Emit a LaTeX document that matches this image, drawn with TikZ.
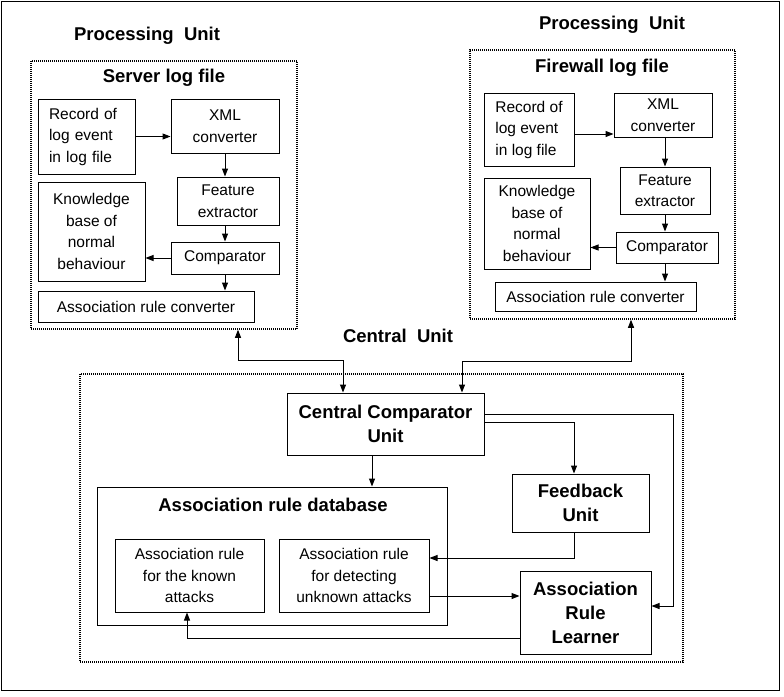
\documentclass[tikz,border=0pt]{standalone}
\usepackage{fontspec}
\setmainfont{Liberation Sans}
\usetikzlibrary{arrows.meta}

\tikzset{
  box/.style={draw, line width=1pt, inner sep=2pt, align=center,
    font=\fontsize{15.5pt}{21.5pt}\selectfont},
  bigbox/.style={draw, line width=1pt, inner sep=2pt, align=center,
    font=\fontsize{18.5pt}{24pt}\selectfont\bfseries},
  title/.style={font=\fontsize{18.5pt}{24pt}\selectfont\bfseries},
  unitframe/.style={line width=1.5pt, dash pattern=on 1pt off 1pt},
  arr/.style={line width=1pt, -{Triangle[length=8pt,width=6pt]}},
  arrs/.style={line width=1pt, {Triangle[length=8pt,width=6pt]}-{Triangle[length=8pt,width=6pt]}}
}

\begin{document}
\begin{tikzpicture}[x=1pt,y=-1pt]

\useasboundingbox (0,0) rectangle (784,696);
\draw[line width=1pt] (1,1) rectangle (779,690);

% server side
\node[title] (pu1title) at (147,36) {Processing~~Unit};
\node[draw, unitframe, minimum width=266pt, minimum height=268pt] (pu1) at (164,195) {};
\node[title] (srvtitle) at (164,78) {Server log file};

\node[box, align=left, text width=75pt, inner xsep=11pt, minimum height=75pt] (rec1) at (86.5,136.5) {Record of\\log event\\in log file};
\node[box, minimum width=108pt, minimum height=54pt] (xml1) at (225,126) {XML\\converter};
\node[box, minimum width=102pt, minimum height=48pt] (feat1) at (228,201) {Feature\\extractor};
\node[box, minimum width=107pt, minimum height=99pt] (know1) at (91.5,231.5) {Knowledge\\base of\\normal\\behaviour};
\node[box, minimum width=108pt, minimum height=32pt] (comp1) at (225,258) {Comparator};
\node[box, minimum width=216pt, minimum height=31pt] (arc1) at (146,306.5) {Association rule converter};

\draw[arr] (rec1.east) -- (rec1.east -| xml1.west);
\draw[arr] (xml1.south) -- (xml1.south |- feat1.north);
\draw[arr] (comp1.north |- feat1.south) -- (comp1.north);
\draw[arr] (comp1.west) -- (comp1.west -| know1.east);
\draw[arr] (comp1.south) -- (comp1.south |- arc1.north);

% firewall side
\node[title] (pu2title) at (612,25) {Processing~~Unit};
\node[draw, unitframe, minimum width=265pt, minimum height=269pt] (pu2) at (602.5,184.5) {};
\node[title] (fwtitle) at (602,68) {Firewall log file};

\node[box, align=left, minimum width=90pt, minimum height=73pt] (rec2) at (529,129.5) {Record of\\log event\\in log file};
\node[box, minimum width=98pt, minimum height=44pt] (xml2) at (663,115) {XML\\converter};
\node[box, minimum width=90pt, minimum height=47pt] (feat2) at (665,190.5) {Feature\\extractor};
\node[box, minimum width=106pt, minimum height=91pt] (know2) at (537,223.5) {Knowledge\\base of\\normal\\behaviour};
\node[box, minimum width=102pt, minimum height=31pt] (comp2) at (667,247.5) {Comparator};
\node[box, minimum width=201pt, minimum height=29pt] (arc2) at (595.5,296.5) {Association rule converter};

\draw[arr] ([yshift=-4.5pt]rec2.east) -- ([yshift=-4.5pt]rec2.east -| xml2.west);
\draw[arr] (feat2.north |- xml2.south) -- (feat2.north);
\draw[arr] (feat2.south) -- (feat2.south |- comp2.north);
\draw[arr] (comp2.west) -- (comp2.west -| know2.east);
\draw[arr] (feat2.south |- comp2.south) -- (feat2.south |- arc2.north);

% central unit
\node[title] (cutitle) at (398,336) {Central~~Unit};
\node[draw, unitframe, minimum width=603pt, minimum height=288pt] (cu) at (381.5,518) {};

\node[bigbox, minimum width=197pt, minimum height=62pt] (ccu) at (385.5,424) {Central Comparator\\Unit};
\node[draw, line width=1pt, minimum width=350pt, minimum height=138pt] (ardb) at (272,556) {};
\node[title] (ardbtitle) at (273,505) {Association rule database};
\node[box, minimum width=149pt, minimum height=73pt] (known) at (189.5,575.5) {Association rule\\for the known\\attacks};
\node[box, minimum width=150pt, minimum height=73pt] (unknown) at (354,575.5) {Association rule\\for detecting\\unknown attacks};
\node[bigbox, minimum width=137pt, minimum height=58pt] (feedback) at (580.5,503) {Feedback\\Unit};
\node[bigbox, minimum width=131pt, minimum height=83pt] (arl) at (585.5,612.5) {Association\\Rule\\Learner};

\coordinate (j1) at (238,360);
\coordinate (j2) at (343,360);
\coordinate (j3) at (631,361);
\coordinate (j4) at (462,361);

\draw[arrs] (j1 |- pu1.south) -- (j1) -- (j2) -- (j2 |- ccu.north);
\draw[arrs] (j3 |- pu2.south) -- (j3) -- (j4) -- (j4 |- ccu.north);

\draw[arr] ([xshift=-13.5pt]ccu.south) -- ([xshift=-13.5pt]ccu.south |- ardb.north);
\draw[arr] ([yshift=10pt]ccu.east) -| ([xshift=22pt,yshift=6.5pt]arl.east) -- ([yshift=6.5pt]arl.east);
\draw[arr] ([yshift=2pt]ccu.east) -| ([xshift=-6.5pt]feedback.north);
\draw[arr] ([xshift=-6.5pt]feedback.south) |- ([yshift=17.5pt]unknown.east);
\draw[arr] ([yshift=-20.5pt]unknown.east) -- ([yshift=-20.5pt]unknown.east -| arl.west);
\draw[arr] ([yshift=-25.5pt]arl.west) -| ([xshift=-2.5pt]known.south);

\end{tikzpicture}
\end{document}
